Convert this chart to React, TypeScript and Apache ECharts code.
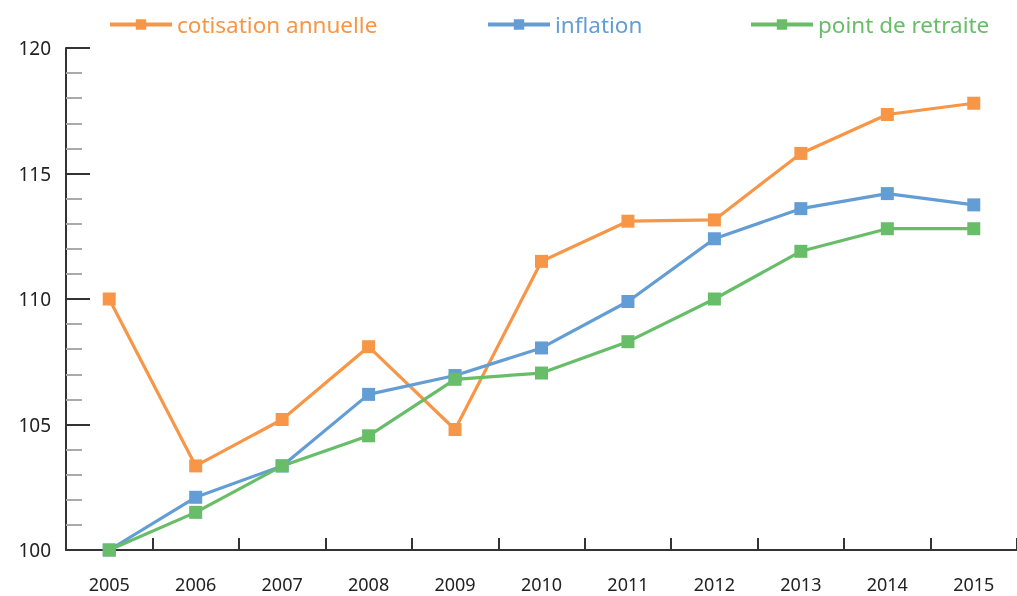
import React, { useEffect, useRef } from "react";
import * as echarts from "echarts";

const years = ["2005", "2006", "2007", "2008", "2009", "2010", "2011", "2012", "2013", "2014", "2015"];
const cotisation = [110.0, 103.35, 105.2, 108.1, 104.8, 111.5, 113.1, 113.15, 115.8, 117.35, 117.8];
const inflation = [100.0, 102.1, 103.35, 106.2, 106.95, 108.05, 109.9, 112.4, 113.6, 114.2, 113.75];
const pointRetraite = [100.0, 101.5, 103.35, 104.55, 106.8, 107.05, 108.3, 110.0, 111.9, 112.8, 112.8];

const ORANGE = "#F79646";
const BLUE = "#639DD5";
const GREEN = "#68BD68";
const FONT = "Noto Sans";

export default function App() {
  const ref = useRef<HTMLDivElement>(null);
  useEffect(() => {
    if (!ref.current) return;
    const chart = echarts.init(ref.current, undefined, { renderer: "svg" });
    const legendBase = {
      top: 8,
      itemWidth: 62,
      itemHeight: 13,
      itemGap: 6,
      lineStyle: { width: 4 },
    };
    const mkSeries = (name: string, data: number[], color: string) => ({
      name,
      type: "line",
      data,
      symbol: "rect",
      symbolSize: 13,
      lineStyle: { color, width: 3.2 },
      itemStyle: { color },
      emphasis: { disabled: true },
    });
    chart.setOption({
      animation: false,
      legend: [
        { ...legendBase, left: 103, data: ["cotisation annuelle"], textStyle: { color: ORANGE, fontSize: 22.5, fontFamily: FONT } },
        { ...legendBase, left: 481, data: ["inflation"], textStyle: { color: BLUE, fontSize: 22.5, fontFamily: FONT } },
        { ...legendBase, left: 744, data: ["point de retraite"], textStyle: { color: GREEN, fontSize: 22.5, fontFamily: FONT } },
      ],
      grid: { left: 66, right: -6, top: 48, bottom: 46, containLabel: false },
      xAxis: {
        type: "category",
        data: years,
        boundaryGap: true,
        axisLine: { lineStyle: { color: "#333", width: 2 } },
        axisTick: { show: true, interval: 0, inside: true, length: 12, lineStyle: { color: "#333", width: 2 } },
        axisLabel: { color: "#222", fontSize: 18, fontFamily: FONT, margin: 25, interval: 0 },
        splitLine: { show: false },
      },
      yAxis: {
        type: "value",
        min: 100,
        max: 120,
        interval: 5,
        axisLine: { show: true, lineStyle: { color: "#333", width: 2 } },
        axisTick: { show: true, inside: true, length: 24, lineStyle: { color: "#333", width: 2 } },
        minorTick: { show: true, splitNumber: 5, length: 16, lineStyle: { color: "#aaa", width: 2 } },
        axisLabel: { color: "#222", fontSize: 19, fontFamily: FONT, margin: 15, padding: [0, 0, 11, 0] },
        splitLine: { show: false },
      },
      series: [
        mkSeries("cotisation annuelle", cotisation, ORANGE),
        mkSeries("inflation", inflation, BLUE),
        mkSeries("point de retraite", pointRetraite, GREEN),
      ],
    });
    return () => chart.dispose();
  }, []);
  return <div ref={ref} style={{ width: 1017, height: 596, position: "fixed", left: 0, top: 0 }} />;
}
